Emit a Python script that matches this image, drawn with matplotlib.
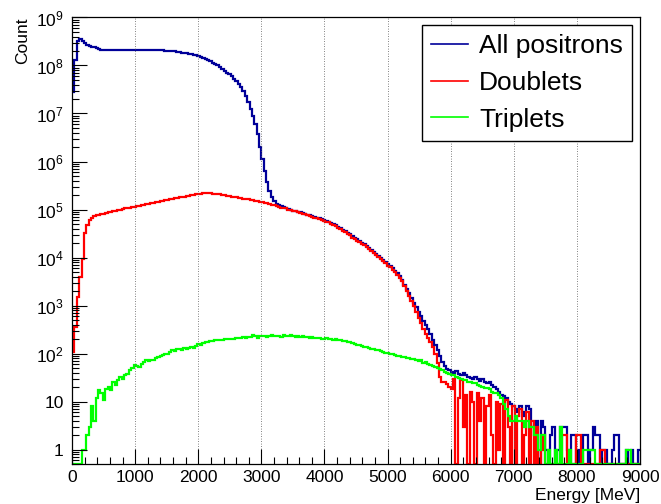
import numpy as np
import matplotlib
matplotlib.use("Agg")
import matplotlib.pyplot as plt
from matplotlib.ticker import FixedLocator, LogLocator, MultipleLocator, NullFormatter
from matplotlib.lines import Line2D

plt.rcParams['font.family'] = ['Liberation Sans', 'DejaVu Sans']

# 240 bins of 37.5 MeV between 0 and 9000 MeV
bin_edges = np.linspace(0, 9000, 241)

all_positrons = [
    2.8e7, 1.3e8, 3.2e8, 3.5e8, 3.3e8, 2.9e8, 2.7e8, 2.55e8, 2.45e8, 2.4e8,
    2.35e8, 2.25e8, 2.15e8, 2.1e8, 2.1e8, 2.1e8, 2.1e8, 2.1e8, 2.1e8, 2.1e8,
    2.1e8, 2.1e8, 2.1e8, 2.1e8, 2.1e8, 2.1e8, 2.1e8, 2.1e8, 2.1e8, 2.1e8,
    2.1e8, 2.1e8, 2.1e8, 2.1e8, 2.1e8, 2.08e8, 2.08e8, 2.06e8, 2.06e8, 2.05e8,
    2.04e8, 2.04e8, 2.0e8, 2.0e8, 1.95e8, 1.9e8, 1.86e8, 1.82e8, 1.78e8, 1.74e8,
    1.7e8, 1.66e8, 1.62e8, 1.58e8, 1.51e8, 1.45e8, 1.38e8, 1.32e8, 1.23e8, 1.15e8,
    1.07e8, 1.0e8, 9.3e7, 8.5e7, 7.8e7, 7.1e7, 6.5e7, 5.9e7, 5.2e7, 4.7e7,
    4.2e7, 3.5e7, 2.9e7, 2.3e7, 1.7e7, 1.26e7, 8.9e6, 6.0e6, 3.8e6, 2.0e6,
    1.12e6, 6.3e5, 3.7e5, 2.4e5, 1.78e5, 1.48e5, 1.3e5, 1.22e5, 1.16e5, 1.12e5,
    1.07e5, 1.02e5, 1.0e5, 9.5e4, 9.3e4, 8.9e4, 8.7e4, 8.3e4, 8.1e4, 7.8e4,
    7.6e4, 7.3e4, 7.0e4, 6.8e4, 6.5e4, 6.2e4, 6.1e4, 5.8e4, 5.6e4, 5.3e4,
    5.0e4, 4.7e4, 4.4e4, 4.1e4, 3.8e4, 3.6e4, 3.3e4, 3.1e4, 2.8e4, 2.6e4,
    2.4e4, 2.25e4, 2.05e4, 1.9e4, 1.75e4, 1.6e4, 1.46e4, 1.33e4, 1.21e4, 1.1e4,
    1.0e4, 9000, 8200, 7300, 6700, 6000, 5300, 4800, 4100, 3400,
    2700, 2200, 1800, 1450, 1150, 930, 740, 600, 480, 390,
    320, 250, 195, 150, 120, 90, 68, 55, 48, 45,
    42, 40, 44, 38, 36, 40, 35, 33, 31, 30,
    32, 29, 27, 30, 25, 24, 26, 22, 20, 18,
    16, 14, 13, 12, 10, 9, 8, 7, 6, 8,
    5, 6, 8, 7, 3, 2, 4, 0, 4, 3,
    1, 0, 2, 3, 0, 1, 3, 3, 3, 1,
    0, 2, 2, 0, 1, 0, 2, 2, 0, 1,
    3, 2, 2, 0, 1, 1, 0, 0, 1, 2,
    2, 0, 0, 0, 1, 0, 1, 0, 0, 1,
]

doublets = [
    110, 360, 1500, 4000, 9500, 3.2e4, 4.7e4, 6.0e4, 6.8e4, 7.2e4,
    7.6e4, 7.8e4, 7.9e4, 8.1e4, 8.5e4, 8.7e4, 8.9e4, 9.1e4, 9.3e4, 9.8e4,
    1.0e5, 1.02e5, 1.05e5, 1.07e5, 1.1e5, 1.12e5, 1.15e5, 1.17e5, 1.2e5, 1.23e5,
    1.26e5, 1.29e5, 1.32e5, 1.35e5, 1.38e5, 1.41e5, 1.45e5, 1.48e5, 1.51e5, 1.55e5,
    1.58e5, 1.62e5, 1.66e5, 1.7e5, 1.74e5, 1.78e5, 1.82e5, 1.86e5, 1.9e5, 1.95e5,
    2.0e5, 2.04e5, 2.09e5, 2.14e5, 2.14e5, 2.19e5, 2.19e5, 2.19e5, 2.19e5, 2.14e5,
    2.14e5, 2.09e5, 2.09e5, 2.04e5, 2.0e5, 1.95e5, 1.9e5, 1.86e5, 1.82e5, 1.78e5,
    1.74e5, 1.7e5, 1.66e5, 1.66e5, 1.62e5, 1.58e5, 1.55e5, 1.51e5, 1.48e5, 1.45e5,
    1.41e5, 1.38e5, 1.35e5, 1.32e5, 1.26e5, 1.23e5, 1.17e5, 1.15e5, 1.1e5, 1.07e5,
    1.05e5, 1.0e5, 9.8e4, 9.3e4, 9.1e4, 8.7e4, 8.5e4, 8.1e4, 7.9e4, 7.6e4,
    7.4e4, 7.1e4, 6.8e4, 6.6e4, 6.3e4, 6.0e4, 5.9e4, 5.6e4, 5.4e4, 5.1e4,
    4.8e4, 4.5e4, 4.2e4, 3.9e4, 3.6e4, 3.4e4, 3.1e4, 2.9e4, 2.6e4, 2.45e4,
    2.24e4, 2.1e4, 1.9e4, 1.78e4, 1.62e4, 1.48e4, 1.35e4, 1.23e4, 1.12e4, 1.02e4,
    9300, 8300, 7600, 6800, 6200, 5500, 4900, 4400, 3800, 3200,
    2600, 2050, 1600, 1250, 960, 740, 560, 430, 330, 260,
    210, 170, 140, 100, 62, 33, 26, 25, 23, 20,
    18, 30, 0, 12, 28, 3, 14, 0, 16, 10,
    0, 15, 4, 12, 0, 8, 14, 2, 0, 10,
    1, 9, 0, 11, 3, 0, 8, 0, 5, 7,
    0, 2, 6, 0, 4, 0, 3, 0, 1, 2,
    0, 0, 0, 0, 0, 0, 0, 2, 2, 0,
    0, 0, 0, 2, 2, 0, 0, 0, 0, 0,
    0, 0, 0, 1, 1, 0, 0, 0, 0, 0,
    0, 0, 0, 0, 0, 0, 0, 0, 0, 0,
]

triplets = [
    0, 0, 0, 0, 1, 1, 2, 3, 8, 4,
    12, 17, 15, 11, 18, 20, 17, 25, 22, 28,
    33, 30, 36, 38, 45, 50, 57, 55, 52, 60,
    68, 72, 70, 72, 75, 80, 85, 88, 95, 98,
    100, 108, 117, 112, 125, 127, 120, 130, 123, 128,
    137, 132, 145, 155, 150, 162, 170, 175, 180, 185,
    190, 188, 195, 192, 198, 200, 196, 205, 202, 210,
    215, 208, 220, 212, 225, 218, 240, 228, 215, 232,
    230, 235, 225, 232, 240, 228, 235, 230, 225, 238,
    232, 228, 240, 235, 225, 230, 222, 228, 218, 222,
    215, 220, 212, 208, 215, 205, 200, 208, 198, 205,
    195, 200, 188, 192, 185, 180, 175, 170, 165, 160,
    152, 150, 142, 138, 135, 130, 126, 122, 120, 117,
    115, 110, 105, 102, 100, 96, 92, 90, 88, 86,
    85, 82, 80, 78, 76, 74, 70, 72, 65, 66,
    60, 57, 55, 52, 50, 48, 46, 42, 40, 38,
    36, 35, 33, 31, 30, 28, 28, 26, 25, 24,
    24, 22, 21, 20, 19, 19, 18, 16, 15, 15,
    14, 12, 9, 7, 5, 4, 4, 5, 4, 4,
    4, 3, 4, 3, 3, 2, 2, 1, 2, 2,
    0, 1, 0, 0, 1, 0, 3, 0, 0, 0,
    1, 0, 0, 0, 0, 0, 1, 1, 1, 1,
    1, 0, 0, 0, 0, 0, 0, 0, 0, 0,
    0, 0, 0, 0, 1, 1, 0, 0, 0, 0,
]

series = [
    ("All positrons", all_positrons, "#000099"),
    ("Doublets", doublets, "#ff0000"),
    ("Triplets", triplets, "#00ff00"),
]

y_ticks = [1, 10, 1e2, 1e3, 1e4, 1e5, 1e6, 1e7, 1e8, 1e9]
y_tick_labels = ["1", "10"] + [r"$\mathregular{10^{%d}}$" % k for k in range(2, 10)]
y_min, y_max = 0.5, 1e9

fig = plt.figure(figsize=(6.61, 5.04), dpi=100)
ax = fig.add_axes([0.109, 0.0794, 0.8593, 0.8859])

for label, counts, color in series:
    vals = np.asarray(counts, dtype=float)
    vals = np.where(vals > 0, vals, y_min)  # empty bins are drawn on the frame bottom
    ax.stairs(vals, bin_edges, baseline=None, color=color, lw=1.6)

ax.set_yscale("log")
ax.set_xlim(0, 9000)
ax.set_ylim(y_min, y_max)

ax.xaxis.set_major_locator(MultipleLocator(1000))
ax.xaxis.set_minor_locator(MultipleLocator(200))
ax.yaxis.set_major_locator(FixedLocator(y_ticks))
ax.yaxis.set_major_formatter(plt.FixedFormatter(y_tick_labels))
ax.yaxis.set_minor_locator(LogLocator(base=10, subs=np.arange(2, 10), numticks=100))
ax.yaxis.set_minor_formatter(NullFormatter())

ax.tick_params(which="both", direction="in", top=False, right=False,
               labelsize=12.5, width=0.8)
ax.tick_params(which="major", length=10.5)
ax.tick_params(which="minor", length=5.3)
ax.tick_params(axis="x", pad=4)
ax.tick_params(axis="y", pad=6)

ax.grid(axis="x", which="major", color="0.35", ls=(0, (1, 2)), lw=0.6)
for s in ax.spines.values():
    s.set_linewidth(0.9)

ax.set_xlabel("Energy [MeV]", fontsize=12.5, loc="right")
ax.set_ylabel("Count", fontsize=12.5, loc="top")
ax.xaxis.set_label_coords(1.0, -0.054)
ax.yaxis.set_label_coords(-0.074, 1.0)

handles = [Line2D([], [], color=c, lw=1.2) for _, _, c in series]
leg = ax.legend(handles, [s[0] for s in series], loc="upper right",
                bbox_to_anchor=(0.986, 0.983), fontsize=19, frameon=True,
                fancybox=False, framealpha=1, edgecolor="black",
                borderpad=0.35, labelspacing=0.48, handlelength=1.4,
                handletextpad=0.4, borderaxespad=0)
leg.get_frame().set_linewidth(1.0)

fig.savefig("out.png", dpi=100)
